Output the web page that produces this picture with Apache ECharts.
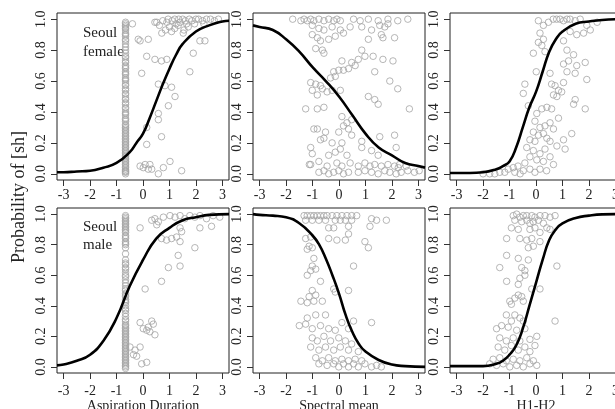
<!DOCTYPE html>
<html>
<head>
<meta charset="utf-8">
<script src="https://cdn.jsdelivr.net/npm/echarts@6/dist/echarts.min.js"></script>
<style>
  html, body { margin: 0; padding: 0; background: #fff; }
  #chart { width: 615px; height: 409px; }
</style>
</head>
<body>
<div id="chart"></div>
<script>
// tick values and labels
var ticksX = [-3, -2, -1, 0, 1, 2, 3];
var ticksY = [0, 0.2, 0.4, 0.6, 0.8, 1];
var xNames = ['Aspiration Duration', 'Spectral mean', 'H1-H2'];
var groupNames = ['Seoul\nfemale', 'Seoul\nmale'];
var yTitle = 'Probability of [sh]';

// the stacked column of tokens at one aspiration value
var columnX = -0.66;
var femDurColumn = [0.00, 0.01, 0.015, 0.02, 0.03, 0.04, 0.05, 0.06, 0.07, 0.08, 0.09, 0.10, 0.11, 0.12, 0.13,
  0.14, 0.15, 0.16, 0.17, 0.18, 0.19, 0.20, 0.21, 0.22, 0.23, 0.24, 0.25, 0.26, 0.27, 0.28, 0.29, 0.30, 0.31,
  0.32, 0.34, 0.35, 0.36, 0.38, 0.39, 0.40, 0.42, 0.43, 0.45, 0.46, 0.48, 0.49, 0.51, 0.52, 0.54, 0.55, 0.57,
  0.58, 0.60, 0.61, 0.62, 0.64, 0.65, 0.66, 0.68, 0.69, 0.70, 0.72, 0.73, 0.75, 0.76, 0.78, 0.80, 0.82, 0.84,
  0.86, 0.87, 0.89, 0.90, 0.91, 0.93, 0.94, 0.95, 0.96, 0.97, 0.98];
var maleDurColumn = [-0.01, 0.00, 0.01, 0.02, 0.03, 0.04, 0.05, 0.06, 0.07, 0.08, 0.09, 0.10, 0.11, 0.12, 0.13,
  0.14, 0.15, 0.16, 0.17, 0.18, 0.19, 0.20, 0.21, 0.22, 0.23, 0.24, 0.25, 0.26, 0.27, 0.28, 0.30, 0.31, 0.33,
  0.35, 0.37, 0.38, 0.40, 0.42, 0.43, 0.44, 0.46, 0.47, 0.48, 0.50, 0.51, 0.53, 0.55, 0.57, 0.59, 0.60, 0.62,
  0.64, 0.65, 0.67, 0.68, 0.70, 0.74, 0.78, 0.80, 0.81, 0.82, 0.84, 0.85, 0.86, 0.88, 0.89, 0.90, 0.91, 0.92,
  0.93, 0.94, 0.95, 0.96, 0.97, 0.98, 0.99];

// female, aspiration duration
var femDurPts = [[-0.4, 0.97], [-0.11, 0.86], [0.2, 0.87], [0.52, 0.98], [0.71, 0.91], [0.9, 0.98], [1.08, 0.92],
  [1.33, 0.96], [1.52, 0.91], [1.71, 0.95], [2.15, 0.86], [2.34, 0.86], [0.14, 0.76], [0.45, 0.74], [0.7, 0.73],
  [0.9, 0.74], [-0.05, 0.65], [1.77, 0.66], [1.9, 0.78], [0.58, 0.58], [0.83, 0.57], [1.08, 0.56], [1.21, 0.5],
  [0.96, 0.44], [0.58, 0.39], [0.58, 0.35], [0.14, 0.3], [0.7, 0.24], [0.14, 0.19], [-0.11, 0.05], [0.08, 0.06],
  [0.26, 0.06], [0.33, 0.03], [0.58, 0.0], [0.77, 0.04], [1.02, 0.08], [1.46, 0.02], [0.01, 0.04], [0.2, 0.03],
  [1.2, 1.0], [1.35, 1.0], [1.5, 1.0], [1.6, 0.99], [1.75, 1.0], [1.85, 0.99], [2.0, 1.0], [2.1, 1.0], [2.25, 0.99],
  [2.4, 1.0], [2.55, 1.0], [2.7, 0.99], [2.85, 1.0], [1.1, 0.99], [1.25, 0.97], [1.4, 0.98], [1.65, 0.97],
  [1.95, 0.97], [2.3, 0.97], [0.95, 1.0], [0.75, 0.99], [0.62, 0.96], [1.0, 0.95], [1.2, 0.94], [1.55, 0.93],
  [0.85, 0.93], [0.45, 0.98], [-0.18, 0.87]];
var femDurCurve = [[-3.25, 0.01], [-3, 0.01], [-2.5, 0.015], [-2, 0.02], [-1.5, 0.04], [-1, 0.07], [-0.5, 0.14],
  [-0.25, 0.2], [0, 0.26], [0.25, 0.36], [0.5, 0.47], [0.75, 0.58], [1, 0.68], [1.25, 0.77], [1.5, 0.84],
  [2, 0.92], [2.5, 0.96], [3, 0.985], [3.25, 0.99]];

// female, spectral mean
var femSpecPts = [[-1.75, 1.0], [-1.44, 0.99], [-1.32, 1.0], [-1.2, 0.99], [-1.07, 1.0], [-0.95, 0.99], [-0.76, 1.0],
  [-0.57, 0.99], [-0.39, 1.0], [-0.2, 0.99], [-0.08, 1.0], [0.05, 0.99], [0.55, 1.0], [0.8, 0.99], [1.11, 1.0],
  [1.48, 0.99], [1.85, 1.0], [2.22, 0.99], [2.6, 1.0],
  [-1.01, 0.96], [-0.76, 0.94], [-0.57, 0.93], [-0.26, 0.95], [0.05, 0.93], [0.42, 0.95], [0.86, 0.95],
  [1.23, 0.93], [1.54, 0.96], [1.73, 0.95], [1.85, 0.97],
  [-1.01, 0.9], [-0.82, 0.88], [-0.7, 0.86], [-0.39, 0.87], [-0.14, 0.89], [0.17, 0.91], [1.11, 0.87],
  [1.6, 0.9], [1.66, 0.88], [2.1, 0.88], [-0.88, 0.81], [-0.63, 0.8], [-0.57, 0.78], [0.86, 0.8],
  [0.11, 0.73], [0.48, 0.72], [0.73, 0.74], [0.98, 0.76], [1.29, 0.76], [1.66, 0.74], [2.04, 0.73],
  [-0.2, 0.66], [-0.01, 0.67], [0.17, 0.67], [0.36, 0.68], [0.61, 0.7], [1.35, 0.66],
  [-0.32, 0.62], [-0.14, 0.63], [1.92, 0.6], [2.22, 0.55],
  [-1.07, 0.59], [-0.88, 0.58], [-0.7, 0.57], [-1.01, 0.54], [-0.82, 0.51], [-0.63, 0.55], [-0.45, 0.53],
  [-0.26, 0.54], [0.05, 0.54], [1.11, 0.5], [1.35, 0.48], [1.48, 0.45],
  [-1.26, 0.42], [-0.82, 0.42], [-0.57, 0.43], [2.66, 0.42], [0.11, 0.37], [0.3, 0.33], [0.48, 0.35], [0.17, 0.31],
  [-0.95, 0.29], [-0.82, 0.29], [-0.51, 0.27], [-0.01, 0.27], [0.36, 0.29], [0.48, 0.25],
  [-0.7, 0.22], [-0.57, 0.23], [-0.26, 0.2], [0.11, 0.2], [0.86, 0.21], [1.54, 0.24], [2.1, 0.25],
  [-1.07, 0.17], [-1.01, 0.13], [-0.39, 0.12], [-0.14, 0.14], [0.05, 0.16], [0.3, 0.12], [0.86, 0.17],
  [1.23, 0.15], [1.48, 0.12], [2.16, 0.17],
  [-1.07, 0.06], [-0.76, 0.08], [-0.45, 0.05], [-0.08, 0.07], [0.11, 0.05], [0.42, 0.07], [0.73, 0.05],
  [0.98, 0.07], [1.17, 0.05], [1.35, 0.06], [1.6, 0.05], [1.85, 0.06], [2.1, 0.05], [2.29, 0.06], [2.54, 0.05],
  [-0.76, 0.01], [-0.57, 0.02], [-0.39, 0.0], [-0.2, 0.01], [-0.01, 0.02], [0.17, 0.0], [0.36, 0.01],
  [0.73, 0.01], [0.98, 0.02], [1.23, 0.01], [1.48, 0.0], [1.73, 0.02], [1.92, 0.01], [2.16, 0.0], [2.35, 0.01],
  [2.6, 0.02], [2.85, 0.01], [3.03, 0.02], [-1.12, 0.06], [2.24, 0.04]];
var femSpecCurve = [[-3.25, 0.96], [-3, 0.95], [-2.5, 0.93], [-2, 0.87], [-1.5, 0.79], [-1, 0.69], [-0.5, 0.6],
  [0, 0.5], [0.5, 0.38], [1, 0.26], [1.5, 0.17], [2, 0.12], [2.5, 0.07], [3, 0.05], [3.25, 0.04]];

// female, H1-H2
var femH1Pts = [[0.65, 1.0], [0.78, 1.0], [0.91, 1.0], [1.04, 0.99], [1.17, 1.0], [1.29, 1.0], [1.48, 0.99],
  [1.67, 1.0], [0.09, 0.99], [0.28, 0.96], [0.47, 0.98], [1.92, 0.96], [2.05, 0.93], [2.31, 0.98], [1.8, 0.91],
  [1.54, 0.9], [1.29, 0.92], [1.04, 0.86], [0.15, 0.91], [0.28, 0.87], [0.09, 0.85], [0.22, 0.83], [-0.1, 0.78],
  [0.34, 0.79], [1.17, 0.8], [1.42, 0.77], [1.23, 0.73], [1.04, 0.71], [1.54, 0.7], [1.86, 0.72], [1.48, 0.65],
  [1.17, 0.66], [1.92, 0.61], [0.53, 0.65], [0.01, 0.66], [-0.42, 0.58], [-0.48, 0.52], [0.59, 0.58],
  [0.72, 0.57], [0.85, 0.54], [0.97, 0.53], [0.66, 0.51], [0.79, 0.5], [1.04, 0.59], [1.48, 0.48], [1.42, 0.45],
  [1.86, 0.42], [-0.29, 0.44], [0.22, 0.42], [0.41, 0.43], [0.59, 0.42], [0.03, 0.39], [0.85, 0.36],
  [0.53, 0.33], [-0.04, 0.34], [0.15, 0.3], [0.34, 0.31], [0.66, 0.29], [-0.1, 0.27], [0.09, 0.25], [0.28, 0.26],
  [-0.23, 0.22], [-0.04, 0.21], [0.41, 0.23], [0.53, 0.21], [1.04, 0.22], [1.35, 0.26], [0.79, 0.18],
  [1.1, 0.16], [-0.35, 0.17], [-0.1, 0.15], [0.15, 0.13], [0.34, 0.16], [0.53, 0.11], [-0.23, 0.11],
  [0.03, 0.09], [0.28, 0.08], [0.66, 0.06], [-0.42, 0.07], [-0.68, 0.05], [-0.86, 0.04], [-1.05, 0.03],
  [-1.18, 0.01], [-0.48, 0.02], [-0.23, 0.03], [-0.04, 0.01], [0.15, 0.03], [-1.37, 0.01], [-1.56, 0.0],
  [-1.75, 0.0], [-2.0, 0.0], [-0.8, 0.01], [-0.6, 0.0], [0.4, 0.02]];
var femH1Curve = [[-3.25, 0.005], [-2.5, 0.005], [-2, 0.01], [-1.5, 0.03], [-1.25, 0.05], [-1, 0.08],
  [-0.75, 0.17], [-0.5, 0.3], [-0.25, 0.43], [0, 0.53], [0.25, 0.66], [0.5, 0.79], [0.75, 0.87], [1, 0.92],
  [1.5, 0.97], [2, 0.985], [2.5, 0.995], [3.25, 1.0]];

// male, aspiration duration
var maleDurPts = [[-0.11, 0.91], [0.33, 0.96], [0.45, 0.97], [0.58, 0.95], [0.77, 0.98], [1.02, 0.99], [1.21, 0.98],
  [1.4, 0.99], [1.58, 0.97], [1.77, 0.99], [1.96, 0.98], [2.15, 0.99], [2.4, 0.97], [2.65, 0.99], [2.9, 0.98],
  [0.52, 0.93], [1.4, 0.91], [2.15, 0.91], [2.59, 0.92], [1.46, 0.885], [0.7, 0.84], [0.89, 0.83], [1.08, 0.84],
  [1.4, 0.82], [1.27, 0.85], [1.96, 0.78], [1.33, 0.73], [1.4, 0.66], [0.96, 0.65], [0.7, 0.56], [0.08, 0.51],
  [-0.11, 0.29], [0.01, 0.25], [0.2, 0.26], [0.33, 0.3], [0.39, 0.28], [0.26, 0.23], [0.45, 0.21], [0.14, 0.24],
  [-0.49, 0.13], [-0.3, 0.11], [-0.11, 0.13], [-0.36, 0.08], [-0.24, 0.07], [-0.05, 0.02], [0.14, 0.03]];
var maleDurCurve = [[-3.25, 0.01], [-3, 0.015], [-2.5, 0.04], [-2, 0.08], [-1.5, 0.17], [-1, 0.32], [-0.5, 0.53],
  [0, 0.7], [0.5, 0.84], [1, 0.91], [1.5, 0.96], [2, 0.98], [2.5, 0.995], [3.25, 1.0]];

// male, spectral mean
var maleSpecPts = [[-1.32, 0.99], [-1.2, 0.99], [-1.07, 0.99], [-0.95, 0.99], [-0.82, 0.99], [-0.7, 0.99],
  [-0.57, 0.99], [-0.45, 0.99], [-0.26, 0.99], [-0.08, 0.99], [0.11, 0.99], [0.3, 0.99], [0.48, 0.99], [0.67, 0.99],
  [-1.26, 0.96], [-1.01, 0.96], [-0.76, 0.96], [-0.51, 0.96], [-0.14, 0.96], [0.05, 0.96], [0.24, 0.96],
  [0.48, 0.96], [1.23, 0.97], [1.42, 0.96], [1.17, 0.92], [1.79, 0.96], [-0.39, 0.91], [-0.2, 0.91], [0.36, 0.92],
  [-1.26, 0.84], [-1.07, 0.85], [-0.39, 0.84], [-0.08, 0.83], [0.24, 0.83], [0.36, 0.87], [0.98, 0.82],
  [1.11, 0.78], [-1.13, 0.79], [-1.01, 0.78], [-1.2, 0.77], [-0.95, 0.71], [-1.01, 0.66], [-1.07, 0.63],
  [-0.88, 0.64], [-1.2, 0.6], [-0.7, 0.56], [0.55, 0.66], [-0.2, 0.51], [-0.14, 0.49], [0.36, 0.5],
  [-1.01, 0.5], [-1.13, 0.46], [-0.88, 0.47], [-1.44, 0.43], [-1.2, 0.42], [-0.95, 0.43], [-0.63, 0.43],
  [-1.2, 0.32], [-0.88, 0.34], [-0.51, 0.34], [-1.5, 0.27], [-1.26, 0.28], [-1.01, 0.25], [-0.7, 0.27],
  [-0.39, 0.25], [-0.14, 0.24], [0.11, 0.29], [0.36, 0.25], [0.55, 0.3], [1.23, 0.29],
  [-1.01, 0.19], [-0.82, 0.17], [-0.57, 0.2], [-0.32, 0.17], [-0.01, 0.19], [0.24, 0.17], [0.48, 0.15],
  [-1.07, 0.13], [-0.76, 0.11], [-0.51, 0.13], [-0.2, 0.11], [0.05, 0.13], [0.36, 0.11], [0.73, 0.1],
  [-0.88, 0.06], [-0.63, 0.04], [-0.39, 0.06], [-0.14, 0.04], [0.11, 0.05], [0.36, 0.04], [0.61, 0.05],
  [0.86, 0.04], [-0.76, 0.02], [-0.45, 0.01], [-0.2, 0.02], [-0.01, 0.0], [0.17, 0.02], [0.36, 0.0], [0.55, 0.02],
  [0.73, 0.0], [0.98, 0.02], [1.23, 0.0], [1.42, 0.01], [1.6, 0.0]];
var maleSpecCurve = [[-3.25, 1.0], [-3, 0.995], [-2.5, 0.99], [-2, 0.98], [-1.5, 0.94], [-1, 0.86], [-0.75, 0.8],
  [-0.5, 0.71], [-0.25, 0.6], [0, 0.48], [0.25, 0.34], [0.5, 0.23], [0.75, 0.15], [1, 0.1], [1.5, 0.045],
  [2, 0.015], [2.5, 0.005], [3.25, 0.0]];

// male, H1-H2
var maleH1Pts = [[-0.86, 0.99], [-0.73, 1.0], [-0.61, 0.98], [-0.48, 0.99], [-0.35, 0.99], [-0.16, 0.99],
  [-0.04, 0.98], [0.15, 0.99], [0.34, 0.99], [0.53, 0.98], [0.72, 0.99], [-0.35, 0.96], [-0.1, 0.95], [0.09, 0.96],
  [0.28, 0.94], [-0.23, 0.94], [-0.54, 0.95], [-0.8, 0.96], [-0.93, 0.91], [-0.67, 0.9], [-0.23, 0.9],
  [-0.04, 0.91], [0.15, 0.88], [0.41, 0.91], [0.53, 0.9], [-1.11, 0.84], [-0.61, 0.84], [-0.35, 0.83],
  [-0.16, 0.84], [0.15, 0.82], [-0.29, 0.78], [-0.1, 0.79], [-1.11, 0.73], [-0.67, 0.71], [-0.29, 0.7],
  [0.79, 0.66], [-1.37, 0.65], [-0.54, 0.65], [-0.42, 0.63], [-0.61, 0.58], [-0.42, 0.6], [-1.11, 0.56],
  [-0.67, 0.54], [-0.16, 0.51], [0.15, 0.51], [-0.67, 0.47], [-0.54, 0.46], [-0.99, 0.43], [-0.8, 0.45],
  [-0.48, 0.43], [-0.93, 0.41], [-1.12, 0.34], [-0.8, 0.34], [-0.61, 0.32], [-0.93, 0.3], [-0.48, 0.3],
  [-1.49, 0.25], [-1.3, 0.27], [-1.05, 0.26], [-0.73, 0.24], [-0.42, 0.25], [0.72, 0.3], [0.03, 0.2],
  [-1.37, 0.19], [-1.12, 0.17], [-0.86, 0.19], [-0.61, 0.17], [-0.23, 0.18], [-0.04, 0.14], [-1.43, 0.13],
  [-1.18, 0.11], [-0.93, 0.14], [-0.67, 0.11], [-0.42, 0.13], [-0.23, 0.1], [-1.62, 0.05], [-1.37, 0.06],
  [-1.12, 0.04], [-0.86, 0.05], [-0.61, 0.04], [-0.35, 0.06], [-0.1, 0.04], [-1.49, 0.01], [-1.24, 0.02],
  [-0.99, 0.0], [-0.73, 0.01], [-0.48, 0.0], [-0.23, 0.02], [0.03, 0.01], [-1.75, 0.02]];
var maleH1Curve = [[-3.25, 0.005], [-2, 0.005], [-1.5, 0.02], [-1.25, 0.04], [-1, 0.08], [-0.75, 0.14],
  [-0.5, 0.25], [-0.25, 0.4], [0, 0.55], [0.25, 0.7], [0.5, 0.83], [0.75, 0.9], [1, 0.94], [1.5, 0.975],
  [2, 0.99], [2.5, 0.998], [3.25, 1.0]];

var panels = [
  { pts: femDurPts, column: femDurColumn, curve: femDurCurve },
  { pts: femSpecPts, curve: femSpecCurve },
  { pts: femH1Pts, curve: femH1Curve },
  { pts: maleDurPts, column: maleDurColumn, curve: maleDurCurve },
  { pts: maleSpecPts, curve: maleSpecCurve },
  { pts: maleH1Pts, curve: maleH1Curve }
];

var font = 'Liberation Serif';
var colLeft = [57, 253, 450];
var rowTop = [13, 208];
var rowHeight = [167, 165];
var labelMargin = [8, 11];

var grids = [], xAxes = [], yAxes = [], series = [];
panels.forEach(function (p, i) {
  var r = Math.floor(i / 3), c = i % 3;
  grids.push({
    left: colLeft[c], top: rowTop[r], width: 172, height: rowHeight[r],
    outerBoundsMode: 'none', containLabel: false,
    show: true, borderColor: '#222', borderWidth: 1, backgroundColor: 'transparent'
  });
  xAxes.push({
    type: 'value', gridIndex: i, min: -3.25, max: 3.25,
    axisLine: { show: false, onZero: false },
    axisTick: { show: true, inside: false, length: 6, customValues: ticksX, lineStyle: { color: '#333' } },
    axisLabel: { customValues: ticksX, margin: labelMargin[r], fontFamily: font, fontSize: 14, color: '#222' },
    splitLine: { show: false },
    name: r === 1 ? xNames[c] : '',
    nameLocation: 'middle', nameGap: 26,
    nameTextStyle: { fontFamily: font, fontSize: 14, color: '#222' }
  });
  yAxes.push({
    type: 'value', gridIndex: i, min: -0.04, max: 1.04,
    axisLine: { show: false, onZero: false },
    axisTick: { show: true, inside: false, length: 6, customValues: ticksY, lineStyle: { color: '#333' } },
    axisLabel: {
      customValues: ticksY, rotate: 90, margin: 9, fontFamily: font, fontSize: 14, color: '#222',
      formatter: function (v) { return v.toFixed(1); }
    },
    splitLine: { show: false }
  });
  var data = p.pts.slice();
  if (p.column) {
    p.column.forEach(function (y) { data.push([columnX, y]); });
  }
  series.push({
    type: 'scatter', xAxisIndex: i, yAxisIndex: i, data: data,
    symbol: 'circle', symbolSize: 6.5,
    itemStyle: { color: 'rgba(0,0,0,0)', borderColor: '#a4a4a4', borderWidth: 1 },
    emphasis: { disabled: true }, silent: true, z: 2
  });
  series.push({
    type: 'line', xAxisIndex: i, yAxisIndex: i, data: p.curve,
    smooth: true, showSymbol: false, silent: true, z: 3,
    lineStyle: { color: '#000', width: 2.6 }
  });
});

var chart = echarts.init(document.getElementById('chart'));
chart.setOption({
  animation: false,
  backgroundColor: '#fff',
  grid: grids,
  xAxis: xAxes,
  yAxis: yAxes,
  series: series,
  graphic: [
    {
      type: 'text', x: 19, y: 197, rotation: Math.PI / 2,
      style: { text: yTitle, font: '18px "' + font + '"', fill: '#222', textAlign: 'center', textVerticalAlign: 'middle' }
    },
    {
      type: 'text', x: 83, y: 24,
      style: { text: groupNames[0], font: '15px "' + font + '"', lineHeight: 19, fill: '#222', textAlign: 'left', textVerticalAlign: 'top' }
    },
    {
      type: 'text', x: 83, y: 218,
      style: { text: groupNames[1], font: '15px "' + font + '"', lineHeight: 18, fill: '#222', textAlign: 'left', textVerticalAlign: 'top' }
    }
  ]
});
</script>
</body>
</html>
